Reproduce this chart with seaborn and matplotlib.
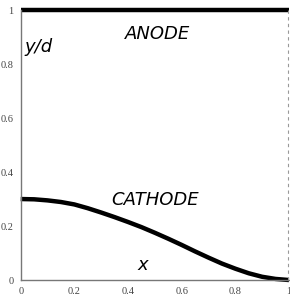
import numpy as np
import pandas as pd
import seaborn as sns
import matplotlib
matplotlib.use("Agg")
import matplotlib.pyplot as plt

# cathode profile
x_cathode = [0.0, 0.05, 0.1, 0.15, 0.2, 0.25, 0.3, 0.35, 0.4, 0.45, 0.5,
             0.55, 0.6, 0.65, 0.7, 0.75, 0.8, 0.85, 0.9, 0.95, 1.0]
y_cathode = [0.300, 0.299, 0.295, 0.289, 0.280, 0.266, 0.250, 0.233, 0.215, 0.196, 0.175,
             0.153, 0.130, 0.106, 0.083, 0.061, 0.042, 0.025, 0.012, 0.004, 0.0]

# anode is flat at y/d = 1
x_anode = [0.0, 1.0]
y_anode = [1.0, 1.0]

major_ticks = [0, 0.2, 0.4, 0.6, 0.8, 1]
tick_labels = ["0", "0.2", "0.4", "0.6", "0.8", "1"]
minor_ticks = [0.1, 0.3, 0.5, 0.7, 0.9]

df_c = pd.DataFrame({"x": x_cathode, "y": y_cathode})
df_a = pd.DataFrame({"x": x_anode, "y": y_anode})

sns.set_style("white")

fig = plt.figure(figsize=(2.9, 2.95), dpi=100)
ax = fig.add_axes([0.0714, 0.0508, 0.925, 0.915])

sns.lineplot(data=df_a, x="x", y="y", ax=ax, color="black", lw=3.2,
             solid_capstyle="butt", clip_on=False)
sns.lineplot(data=df_c, x="x", y="y", ax=ax, color="black", lw=3.2,
             solid_capstyle="butt", clip_on=False)

ax.axvline(0.997, color="#999999", lw=0.8, ls=(0, (3, 3)), clip_on=False)

ax.set_xlim(0, 1)
ax.set_ylim(0, 1)
ax.set_xlabel("")
ax.set_ylabel("")

ax.set_xticks(major_ticks)
ax.set_xticklabels(tick_labels)
ax.set_yticks(major_ticks)
ax.set_yticklabels(tick_labels)
ax.set_xticks(minor_ticks, minor=True)
ax.set_yticks(minor_ticks, minor=True)
ax.tick_params(which="both", direction="out", colors="#666666", width=0.8,
               labelsize=7.5, pad=2, labelcolor="#444444")
ax.tick_params(which="major", length=3)
ax.tick_params(which="minor", length=2)
for lab in ax.get_xticklabels() + ax.get_yticklabels():
    lab.set_family("Liberation Serif")

for s in ["top", "right"]:
    ax.spines[s].set_visible(False)
for s in ["left", "bottom"]:
    ax.spines[s].set_color("#777777")
    ax.spines[s].set_linewidth(1.0)

txt = dict(family="DejaVu Sans", style="italic", fontsize=13, color="black")
ax.text(0.51, 0.91, "ANODE", ha="center", va="center", **txt)
ax.text(0.50, 0.295, "CATHODE", ha="center", va="center", **txt)
ax.text(0.455, 0.055, "x", ha="center", va="center", **txt)
ax.text(0.015, 0.865, "y/d", ha="left", va="center", **txt)

fig.savefig("out.png", dpi=100)
